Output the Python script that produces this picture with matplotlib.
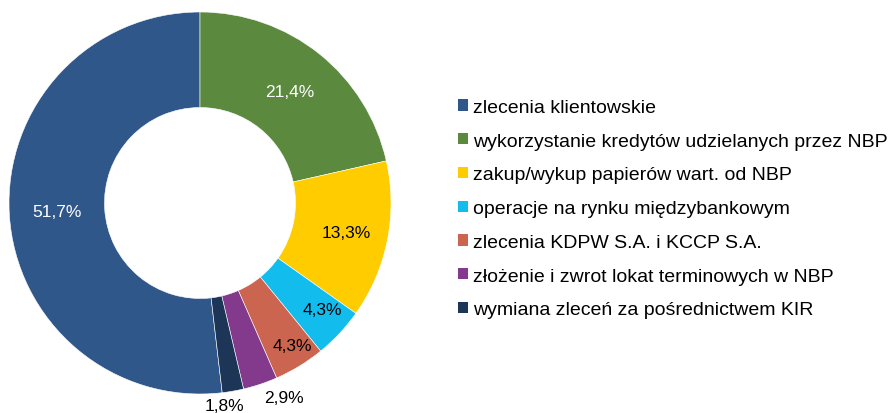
import numpy as np
import matplotlib.pyplot as plt
from matplotlib.patches import Patch

plt.rcParams['font.family'] = ['Liberation Sans', 'DejaVu Sans']

categories = [
    'zlecenia klientowskie',
    'wykorzystanie kredytów udzielanych przez NBP',
    'zakup/wykup papierów wart. od NBP',
    'operacje na rynku międzybankowym',
    'zlecenia KDPW S.A. i KCCP S.A.',
    'złożenie i zwrot lokat terminowych w NBP',
    'wymiana zleceń za pośrednictwem KIR',
]
shares = [51.7, 21.4, 13.3, 4.3, 4.3, 2.9, 1.8]

colors = ['#30578A', '#5B8A3F', '#FFCC00', '#12BDEE', '#CC654F', '#833A8C', '#1D3557']
label_colors = ['white', 'white', 'black', 'black', 'black', 'black', 'black']
# label radius and small angle shift (deg) per slice
label_r = [0.75, 0.75, 0.78, 0.85, 0.89, 1.11, 1.07]
label_shift = [0, 0, 0, 2, 1.5, 5, -3]

fig = plt.figure(figsize=(8.88, 4.14), dpi=100)
ax = fig.add_axes([9 / 888, 19 / 414, 382 / 888, 382 / 414])

start = 90 + 360 * shares[0] / sum(shares)
wedges, _ = ax.pie(shares, colors=colors, startangle=start, counterclock=False,
                   radius=1, wedgeprops=dict(width=0.5, edgecolor='white', linewidth=0.4))
ax.set_xlim(-1, 1)
ax.set_ylim(-1, 1)

for w, v, r, s, c in zip(wedges, shares, label_r, label_shift, label_colors):
    ang = np.deg2rad((w.theta1 + w.theta2) / 2 + s)
    ax.text(r * np.cos(ang), r * np.sin(ang), f'{v:.1f}%'.replace('.', ','),
            ha='center', va='center', fontsize=12.5, color=c, clip_on=False)

handles = [Patch(facecolor=c, edgecolor='none') for c in colors]
fig.legend(handles, categories, loc='upper left', bbox_to_anchor=(458 / 888, 1 - 100 / 414),
           frameon=False, fontsize=14, borderpad=0, borderaxespad=0,
           handlelength=0.52, handleheight=0.52, handletextpad=0.25, labelspacing=0.86)

fig.savefig('out.png', dpi=100)
